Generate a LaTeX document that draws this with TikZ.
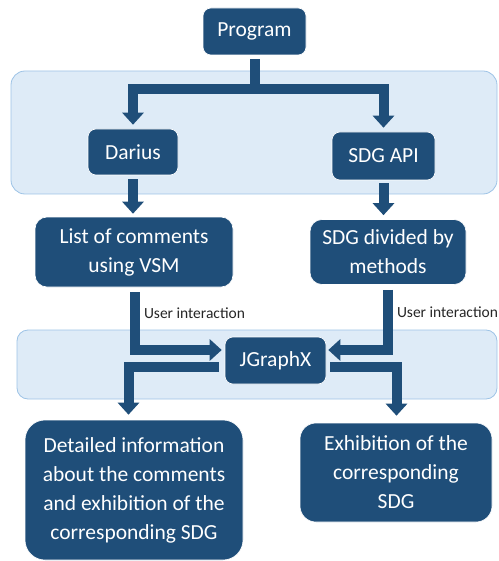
\documentclass[tikz,border=0pt]{standalone}
\usepackage{fontspec}
\setmainfont{Carlito}
\usetikzlibrary{arrows.meta}
\definecolor{boxblue}{HTML}{1F4E79}
\definecolor{panelfill}{HTML}{DEEBF7}
\definecolor{paneledge}{HTML}{9DC3E6}
\begin{document}
\begin{tikzpicture}[x=1pt, y=-1pt,
  box/.style={rectangle, rounded corners=8pt, fill=boxblue, draw=white, line width=0.6pt, text=white, align=center, inner sep=0pt, font=\fontsize{21.5}{29}\selectfont},
  flow/.style={draw=boxblue, line width=10pt, -{Triangle[width=21pt,length=12pt]}},
  panel/.style={rounded corners=14pt, fill=panelfill, draw=paneledge, line width=0.8pt}]
  \tikzstyle{hint}=[font=\fontsize{15.5}{17}\selectfont, text=black!85, inner sep=1pt, anchor=west]
  \useasboundingbox (0,0) rectangle (498,561);

  % background panels
  \draw[panel] (11,71) rectangle (497,194);
  \draw[panel, rounded corners=11pt] (17,330) rectangle (497,399);

  \node[box, minimum width=103pt, minimum height=47pt] (prog) at (254.5,31.5) {Program};
  \node[box, minimum width=90pt, minimum height=46pt] (darius) at (133,152) {Darius};
  \node[box, minimum width=103pt, minimum height=48pt] (sdgapi) at (383.5,156) {SDG API};
  \node[box, minimum width=198pt, minimum height=70pt, rounded corners=12pt] (list) at (134,252) {List of comments\\using VSM};
  \node[box, minimum width=156pt, minimum height=65pt, rounded corners=12pt] (sdgdiv) at (388,252) {SDG divided by\\methods};
  \node[box, minimum width=101pt, minimum height=47pt] (jgx) at (275.5,360.5) {JGraphX};
  \node[box, minimum width=218pt, minimum height=140pt, rounded corners=20pt] (detail) at (134,490) {Detailed information\\about the comments\\and exhibition of the\\corresponding SDG};
  \node[box, minimum width=192pt, minimum height=99pt, rounded corners=16pt] (exhib) at (396,472.5) {Exhibition of the\\corresponding\\SDG};

  % connectors
  \coordinate (split) at (prog.south |- 0,89);
  \draw[flow] ([yshift=-4pt]prog.south) -- (split) -| ([yshift=4pt]darius.north);
  \draw[flow] (split) -| ([yshift=4pt]sdgapi.north);
  \draw[flow] ([yshift=-4pt]darius.south) -- ([yshift=3pt]darius.south |- list.north);
  \draw[flow] ([yshift=-3pt]sdgapi.south) -- ([yshift=4pt]sdgapi.south |- sdgdiv.north);
  \draw[flow] ([xshift=1pt,yshift=-5pt]list.south) |- ([xshift=-3pt,yshift=10.5pt]jgx.west)
    node[hint, pos=0.18, xshift=3pt] {User interaction};
  \draw[flow] ([yshift=-5pt]sdgdiv.south) |- ([xshift=2pt,yshift=10.5pt]jgx.east)
    node[hint, pos=0.19, xshift=3pt] {User interaction};
  \draw[flow] ([xshift=-6pt,yshift=-6.5pt]jgx.west) -| ([xshift=-5.5pt,yshift=5pt]detail.north);
  \draw[flow] ([xshift=4pt,yshift=-6.5pt]jgx.east) -| ([xshift=0.5pt,yshift=7pt]exhib.north);
\end{tikzpicture}
\end{document}
